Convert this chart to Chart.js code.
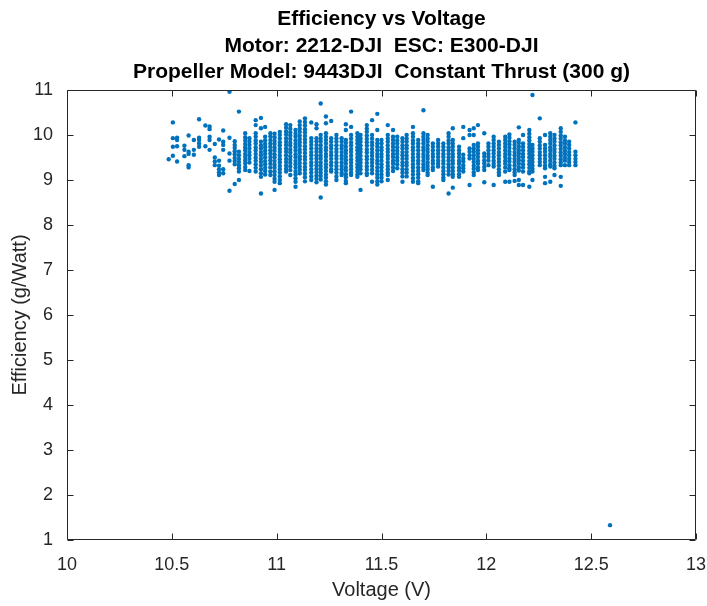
<!DOCTYPE html>
<html>
<head>
<meta charset="utf-8">
<title>Efficiency vs Voltage</title>
<script src="https://cdn.jsdelivr.net/npm/chart.js@4.4.1/dist/chart.umd.min.js"></script>
<style>
  html, body { margin: 0; padding: 0; background: #fff; }
</style>
</head>
<body>
<canvas id="chart" width="707" height="606"></canvas>
<script>
// ---- titles / axes ----
const titleLines = [
  "Efficiency vs Voltage",
  "Motor: 2212-DJI  ESC: E300-DJI",
  "Propeller Model: 9443DJI  Constant Thrust (300 g)"
];
const xTicks = [10, 10.5, 11, 11.5, 12, 12.5, 13];
const xTickLabels = ["10", "10.5", "11", "11.5", "12", "12.5", "13"];
const yTicks = [1, 2, 3, 4, 5, 6, 7, 8, 9, 10, 11];

// ---- samples: sparse start of the sweep (V, g/W) ----
const sparseVolts = [10.775, 10.505, 10.63, 10.66, 10.68, 10.68, 10.745, 10.505, 10.525, 10.525,
  10.58, 10.63, 10.63, 10.63, 10.63, 10.605, 10.68, 10.68, 10.66, 10.705,
  10.725, 10.745, 10.745, 10.745, 10.775, 10.505, 10.525, 10.56, 10.56, 10.605,
  10.605, 10.58, 10.58, 10.68, 10.505, 10.485, 10.56, 10.525, 10.58, 10.58,
  10.705, 10.705, 10.705, 10.725, 10.725, 10.725, 10.725, 10.725, 10.745, 10.745,
  10.775, 10.775, 10.775];
const sparseEffs = [10.96, 10.28, 10.35, 10.21, 10.19, 10.13, 10.10, 9.93, 9.94, 9.89,
  9.99, 9.94, 9.89, 9.81, 9.74, 9.89, 9.96, 9.89, 9.75, 9.80,
  9.90, 9.85, 9.78, 9.67, 9.94, 9.74, 9.75, 9.76, 9.67, 9.67,
  9.56, 9.63, 9.58, 9.67, 9.54, 9.46, 9.53, 9.41, 9.33, 9.28,
  9.50, 9.41, 9.33, 9.43, 9.32, 9.24, 9.17, 9.11, 9.24, 9.15,
  9.59, 9.43, 8.76];

// ---- samples: dense part, grouped by logged voltage step ----
const colVolts = [10.80, 10.82, 10.85, 10.87, 10.90, 10.925, 10.945, 10.97, 10.99, 11.015,
  11.045, 11.065, 11.09, 11.11, 11.135, 11.165, 11.19, 11.21, 11.235, 11.26,
  11.285, 11.31, 11.33, 11.355, 11.385, 11.40, 11.43, 11.455, 11.48, 11.50,
  11.53, 11.555, 11.575, 11.60, 11.62, 11.65, 11.675, 11.70, 11.72, 11.745,
  11.77, 11.795, 11.82, 11.84, 11.87, 11.89, 11.92, 11.94, 11.96, 11.99,
  12.01, 12.035, 12.06, 12.09, 12.11, 12.135, 12.155, 12.175, 12.205, 12.22,
  12.255, 12.28, 12.305, 12.325, 12.355, 12.375, 12.395, 12.425];
const colEffs = [
  [9.86, 9.78, 9.71, 9.64, 9.57, 9.49, 9.42, 9.35, 8.91],
  [10.52, 9.63, 9.55, 9.47, 9.40, 9.33, 9.26, 9.19, 9.00],
  [10.04, 9.95, 9.88, 9.80, 9.73, 9.66, 9.58, 9.51, 9.44, 9.37, 9.29, 9.22],
  [9.93, 9.85, 9.78, 9.70, 9.62, 9.55, 9.47, 9.39, 9.20],
  [10.33, 10.22, 10.04, 9.96, 9.88, 9.81, 9.73, 9.66, 9.58, 9.50, 9.43, 9.35, 9.27, 9.19],
  [10.38, 10.15, 9.85, 9.77, 9.70, 9.62, 9.55, 9.47, 9.40, 9.32, 9.24, 9.15, 9.07, 8.70],
  [10.18, 9.96, 9.88, 9.80, 9.73, 9.65, 9.58, 9.50, 9.42, 9.35, 9.27, 9.20, 9.12],
  [10.04, 9.97, 9.89, 9.81, 9.74, 9.66, 9.59, 9.51, 9.44, 9.36, 9.28, 9.19, 9.11],
  [10.03, 9.95, 9.87, 9.80, 9.72, 9.65, 9.57, 9.50, 9.42, 9.34, 9.27, 9.19, 9.11, 9.03, 8.96, 8.78],
  [10.07, 10.00, 9.92, 9.84, 9.77, 9.69, 9.62, 9.54, 9.46, 9.39, 9.31, 9.24, 9.16, 9.08, 9.00, 8.93],
  [10.24, 10.16, 10.08, 10.01, 9.93, 9.85, 9.78, 9.70, 9.63, 9.55, 9.47, 9.40, 9.32, 9.25, 9.19],
  [10.22, 10.14, 10.06, 9.99, 9.91, 9.83, 9.76, 9.68, 9.61, 9.53, 9.45, 9.38, 9.30, 9.22, 9.11],
  [10.11, 10.03, 9.96, 9.88, 9.80, 9.73, 9.65, 9.57, 9.50, 9.42, 9.35, 9.27, 9.19, 9.12, 9.04, 8.96, 8.85],
  [10.30, 10.22, 10.14, 10.07, 9.99, 9.91, 9.84, 9.76, 9.68, 9.61, 9.53, 9.46, 9.38, 9.30, 9.23, 9.15],
  [10.37, 10.29, 10.21, 10.13, 10.06, 9.98, 9.90, 9.83, 9.75, 9.68, 9.60, 9.52, 9.45, 9.37, 9.29, 9.22, 9.14, 9.06, 8.97],
  [10.28, 9.93, 9.85, 9.78, 9.70, 9.62, 9.55, 9.47, 9.39, 9.32, 9.24, 9.16, 9.08, 9.00],
  [10.24, 10.15, 9.93, 9.86, 9.78, 9.70, 9.63, 9.55, 9.48, 9.40, 9.33, 9.25, 9.18, 9.10, 9.03, 8.95],
  [10.70, 10.00, 9.92, 9.85, 9.77, 9.69, 9.62, 9.54, 9.47, 9.39, 9.31, 9.24, 9.16, 9.09, 9.01, 8.61],
  [10.41, 10.26, 10.04, 9.96, 9.89, 9.81, 9.73, 9.66, 9.58, 9.51, 9.43, 9.35, 9.28, 9.20, 9.12, 9.05, 8.97, 8.90],
  [10.31, 9.93, 9.85, 9.77, 9.70, 9.62, 9.55, 9.47, 9.39, 9.32, 9.24, 9.19],
  [10.00, 9.92, 9.85, 9.77, 9.69, 9.62, 9.54, 9.47, 9.39, 9.31, 9.24, 9.16, 9.08, 9.00],
  [9.93, 9.85, 9.77, 9.70, 9.62, 9.54, 9.47, 9.39, 9.31, 9.24, 9.16, 9.11],
  [10.24, 10.11, 9.89, 9.82, 9.74, 9.66, 9.59, 9.51, 9.44, 9.36, 9.28, 9.21, 9.13, 9.06, 8.98, 8.93],
  [10.52, 10.18, 10.00, 9.92, 9.84, 9.77, 9.69, 9.62, 9.54, 9.46, 9.39, 9.31, 9.24, 9.16, 9.11],
  [10.04, 9.96, 9.89, 9.81, 9.73, 9.66, 9.58, 9.50, 9.43, 9.35, 9.28, 9.20, 9.12, 9.07],
  [10.00, 9.92, 9.85, 9.77, 9.69, 9.62, 9.54, 9.46, 9.39, 9.31, 9.24, 9.15, 8.78],
  [10.22, 10.14, 10.07, 9.99, 9.91, 9.84, 9.76, 9.68, 9.61, 9.53, 9.46, 9.38, 9.30, 9.23, 9.15, 9.11],
  [10.33, 10.00, 9.92, 9.84, 9.77, 9.69, 9.61, 9.54, 9.46, 9.39, 9.31, 9.23, 9.15, 8.96],
  [10.47, 10.11, 9.89, 9.81, 9.74, 9.66, 9.58, 9.51, 9.43, 9.36, 9.28, 9.20, 9.13, 9.05, 8.97, 8.90],
  [9.89, 9.81, 9.73, 9.66, 9.58, 9.51, 9.43, 9.35, 9.28, 9.20, 9.12, 9.05, 8.97],
  [10.22, 10.00, 9.92, 9.85, 9.77, 9.69, 9.62, 9.54, 9.47, 9.39, 9.31, 9.24, 9.16, 9.11, 9.00],
  [10.11, 9.96, 9.89, 9.81, 9.74, 9.66, 9.58, 9.51, 9.43, 9.36, 9.28, 9.20],
  [9.96, 9.88, 9.81, 9.73, 9.65, 9.58, 9.50, 9.43, 9.35, 9.26],
  [9.93, 9.85, 9.77, 9.70, 9.62, 9.55, 9.47, 9.39, 9.32, 9.24, 9.16, 9.08, 8.96],
  [10.00, 9.92, 9.85, 9.77, 9.70, 9.62, 9.54, 9.47, 9.39, 9.32, 9.24, 9.16, 9.08],
  [10.18, 10.04, 9.96, 9.88, 9.81, 9.73, 9.66, 9.58, 9.50, 9.43, 9.35, 9.28, 9.20, 9.12, 9.04, 8.96],
  [9.89, 9.81, 9.74, 9.66, 9.58, 9.51, 9.43, 9.36, 9.28, 9.20, 9.13, 9.05, 8.97, 8.93],
  [10.55, 10.04, 9.96, 9.89, 9.81, 9.73, 9.66, 9.58, 9.51, 9.43, 9.35, 9.28, 9.22],
  [10.00, 9.92, 9.85, 9.77, 9.69, 9.62, 9.54, 9.47, 9.39, 9.31, 9.24, 9.16, 9.11],
  [9.81, 9.74, 9.66, 9.58, 9.51, 9.43, 9.36, 9.28, 9.22, 8.85],
  [9.89, 9.81, 9.74, 9.66, 9.59, 9.51, 9.43, 9.36, 9.30],
  [9.81, 9.74, 9.66, 9.58, 9.51, 9.43, 9.36, 9.28, 9.20, 9.13, 9.05, 9.00],
  [10.04, 9.96, 9.88, 9.81, 9.73, 9.66, 9.58, 9.50, 9.43, 9.35, 9.28, 9.20, 9.12, 8.70],
  [10.15, 9.89, 9.81, 9.74, 9.66, 9.58, 9.51, 9.43, 9.36, 9.28, 9.20, 9.13, 9.07, 8.83],
  [9.74, 9.66, 9.59, 9.51, 9.43, 9.36, 9.28, 9.21, 9.13, 9.07],
  [10.18, 9.93, 9.56, 9.48, 9.41, 9.33, 9.26, 9.19],
  [10.11, 10.00, 9.70, 9.63, 9.55, 9.48, 8.89],
  [10.15, 10.00, 9.78, 9.70, 9.63, 9.55, 9.47, 9.40, 9.32, 9.25, 9.17, 9.11],
  [10.22, 9.81, 9.74, 9.66, 9.59, 9.51, 9.43, 9.36, 9.28, 9.22],
  [10.04, 9.59, 9.52, 9.44, 9.37, 9.29, 9.22, 8.95],
  [9.81, 9.74, 9.66, 9.58, 9.51, 9.43, 9.33],
  [9.96, 9.89, 9.81, 9.74, 9.66, 9.59, 9.51, 9.43, 9.36, 9.30, 8.89],
  [9.85, 9.78, 9.70, 9.62, 9.55, 9.47, 9.40, 9.32, 9.24, 9.17, 9.11],
  [9.96, 9.89, 9.81, 9.74, 9.66, 9.58, 9.51, 9.43, 9.36, 9.28, 9.19, 8.96],
  [10.01, 9.94, 9.86, 9.79, 9.71, 9.63, 9.56, 9.48, 9.41, 9.33, 9.26, 9.22, 8.96],
  [9.85, 9.78, 9.70, 9.62, 9.55, 9.47, 9.40, 9.32, 9.24, 9.17, 9.11, 8.98],
  [10.17, 9.89, 9.82, 9.74, 9.66, 9.59, 9.51, 9.44, 9.36, 9.28, 9.21, 9.00, 8.89],
  [10.00, 9.81, 9.74, 9.66, 9.58, 9.51, 9.43, 9.35, 9.28, 9.19, 8.89],
  [10.11, 10.03, 9.95, 9.88, 9.80, 9.73, 9.65, 9.58, 9.50, 9.42, 9.35, 9.27, 9.19, 9.15, 8.85],
  [10.89, 9.78, 9.70, 9.63, 9.55, 9.47, 9.40, 9.32, 9.25, 9.19, 9.00],
  [10.37, 9.93, 9.85, 9.77, 9.70, 9.62, 9.55, 9.47, 9.40, 9.33],
  [10.00, 9.78, 9.70, 9.63, 9.55, 9.47, 9.40, 9.32, 9.26, 9.07, 8.93],
  [10.04, 9.96, 9.89, 9.81, 9.73, 9.66, 9.58, 9.51, 9.43, 9.35, 9.30, 8.96],
  [10.00, 9.92, 9.85, 9.77, 9.69, 9.62, 9.54, 9.47, 9.39, 9.31, 9.26, 9.11],
  [10.15, 10.07, 9.99, 9.92, 9.84, 9.77, 9.69, 9.61, 9.54, 9.46, 9.39, 9.33, 9.07, 8.87],
  [9.96, 9.88, 9.81, 9.73, 9.65, 9.58, 9.50, 9.43, 9.33],
  [9.85, 9.78, 9.70, 9.62, 9.55, 9.47, 9.40, 9.33],
  [10.28, 9.63, 9.55, 9.47, 9.40, 9.33]
];

// one bad reading at the end of the log
const outlierVolts = [12.59];
const outlierEffs = [1.33];

// flatten everything into {x, y}
const points = [];
sparseVolts.forEach((v, i) => points.push({ x: v, y: sparseEffs[i] }));
colVolts.forEach((v, i) => colEffs[i].forEach(e => points.push({ x: v, y: e })));
outlierVolts.forEach((v, i) => points.push({ x: v, y: outlierEffs[i] }));

const axisColor = "#262626";
const tickLen = 6;

// matlab-ish box with inward ticks on every side
const boxAxes = {
  id: "boxAxes",
  afterDatasetsDraw(chart) {
    const { ctx, chartArea: a, scales: { x, y } } = chart;
    const L = Math.round(a.left) + 0.5, R = Math.round(a.right) - 0.5;
    const T = Math.round(a.top) + 0.5, B = Math.round(a.bottom) - 0.5;
    ctx.save();
    ctx.strokeStyle = axisColor;
    ctx.lineWidth = 1;
    ctx.beginPath();
    ctx.moveTo(L, T); ctx.lineTo(R, T); ctx.lineTo(R, B); ctx.lineTo(L, B); ctx.closePath();
    xTicks.forEach(v => {
      const px = Math.round(x.getPixelForValue(v)) + 0.5;
      ctx.moveTo(px, B); ctx.lineTo(px, B - tickLen);
      ctx.moveTo(px, T); ctx.lineTo(px, T + tickLen);
    });
    yTicks.forEach(v => {
      const py = Math.round(y.getPixelForValue(v)) + 0.5;
      ctx.moveTo(L, py); ctx.lineTo(L + tickLen, py);
      ctx.moveTo(R, py); ctx.lineTo(R - tickLen, py);
    });
    ctx.stroke();
    ctx.restore();
  }
};

Chart.defaults.font.family = "'Liberation Sans', Arial, Helvetica, sans-serif";
Chart.defaults.color = axisColor;

new Chart(document.getElementById("chart"), {
  type: "scatter",
  data: {
    datasets: [{
      data: points,
      backgroundColor: "#0072BD",
      borderWidth: 0,
      pointRadius: 2.2,
      pointHoverRadius: 2.2
    }]
  },
  options: {
    responsive: false,
    animation: false,
    events: [],
    layout: { padding: { top: 0, right: 11, bottom: 0, left: 0 } },
    plugins: {
      legend: { display: false },
      tooltip: { enabled: false },
      title: {
        display: true,
        text: titleLines,
        fullSize: false,
        color: "#000",
        font: { size: 21, weight: "bold", lineHeight: 1.262 },
        padding: { top: 6, bottom: 4.5 }
      }
    },
    scales: {
      x: {
        type: "linear",
        min: 10,
        max: 13,
        afterBuildTicks: s => { s.ticks = xTicks.map(v => ({ value: v })); },
        afterFit: s => { s.height = 66; s.paddingLeft = 0; s.paddingRight = 0; },
        grid: { display: false },
        border: { display: false },
        ticks: {
          font: { size: 18 },
          padding: 6,
          maxRotation: 0,
          callback: (v, i) => xTickLabels[i]
        },
        title: {
          display: true,
          text: "Voltage (V)",
          font: { size: 20 },
          padding: { top: 0, bottom: 4 }
        }
      },
      y: {
        type: "linear",
        min: 1,
        max: 11,
        afterBuildTicks: s => { s.ticks = yTicks.map(v => ({ value: v })); },
        afterFit: s => { s.width = 67; s.paddingTop = 0; s.paddingBottom = 0; },
        grid: { display: false },
        border: { display: false },
        ticks: { font: { size: 18 }, padding: 6 },
        title: {
          display: true,
          text: "Efficiency (g/Watt)",
          font: { size: 20 },
          padding: { top: 8, bottom: 0 }
        }
      }
    }
  },
  plugins: [boxAxes]
});
</script>
</body>
</html>
